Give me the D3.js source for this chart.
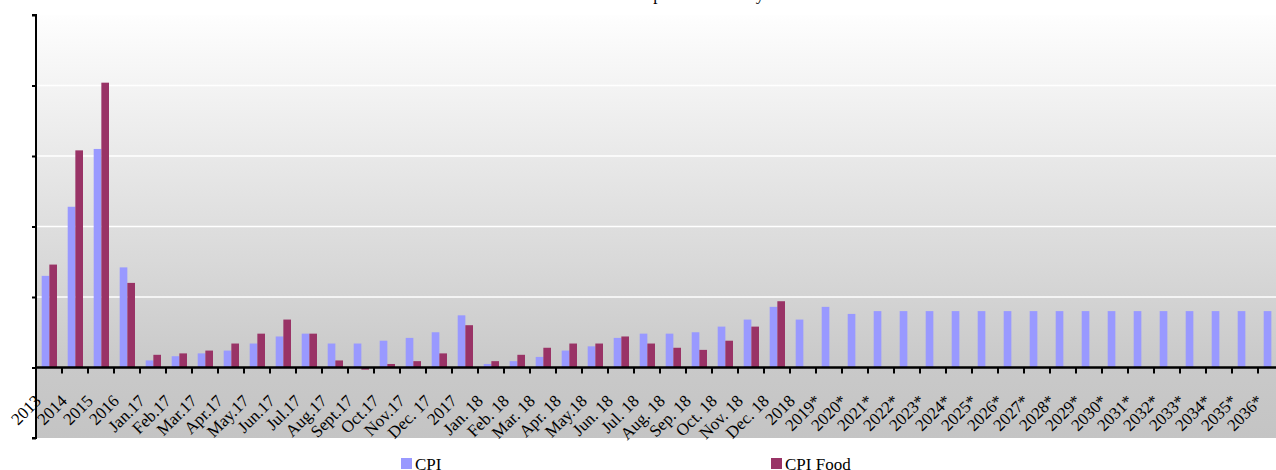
<!DOCTYPE html>
<html>
<head>
<meta charset="utf-8">
<script src="https://cdn.jsdelivr.net/npm/d3@7/dist/d3.min.js"></script>
<style>
  html, body { margin: 0; padding: 0; background: #ffffff; }
  svg { display: block; font-family: "Liberation Serif", "Times New Roman", serif; }
</style>
</head>
<body>
<svg id="chart" width="1276" height="470"></svg>
<script>
// Categories: annual figures, monthly figures for 2017 and 2018, forecasts (*)
const categories = [
  "2013", "2014", "2015", "2016",
  "Jan.17", "Feb.17", "Mar.17", "Apr.17", "May.17", "Jun.17", "Jul.17", "Aug.17",
  "Sept.17", "Oct.17", "Nov.17", "Dec. 17", "2017",
  "Jan. 18", "Feb. 18", "Mar. 18", "Apr. 18", "May.18", "Jun. 18", "Jul. 18",
  "Aug. 18", "Sep. 18", "Oct. 18", "Nov. 18", "Dec. 18", "2018",
  "2019*", "2020*", "2021*", "2022*", "2023*", "2024*", "2025*", "2026*", "2027*",
  "2028*", "2029*", "2030*", "2031*", "2032*", "2033*", "2034*", "2035*", "2036*"
];

// Consumer price index, %
const cpi = [
  6.5, 11.4, 15.5, 7.1,
  0.5, 0.8, 1.0, 1.2, 1.7, 2.2, 2.4, 1.7,
  1.7, 1.9, 2.1, 2.5, 3.7,
  0.25, 0.45, 0.75, 1.2, 1.5, 2.1, 2.4,
  2.4, 2.5, 2.9, 3.4, 4.3, 3.4,
  4.3, 3.8, 4.0, 4.0, 4.0, 4.0, 4.0, 4.0, 4.0,
  4.0, 4.0, 4.0, 4.0, 4.0, 4.0, 4.0, 4.0, 4.0
];

// Food component of the CPI, % (no figures for 2018 annual and forecasts)
const cpiFood = [
  7.3, 15.4, 20.2, 6.0,
  0.9, 1.0, 1.2, 1.7, 2.4, 3.4, 2.4, 0.5,
  -0.15, 0.25, 0.45, 1.0, 3.0,
  0.45, 0.9, 1.4, 1.7, 1.7, 2.2, 1.7,
  1.4, 1.25, 1.9, 2.9, 4.7, null,
  null, null, null, null, null, null, null, null, null,
  null, null, null, null, null, null, null, null, null
];

const seriesNames = ["CPI", "CPI Food"];
const seriesColors = ["#9999ff", "#993366"];
const yTicks = [-5, 0, 5, 10, 15, 20, 25];
const titleText = "Inflation rate in % per month and year";

const svg = d3.select("#chart");

const plotLeft = 36, plotTop = 15, plotBottom = 438;
const bandWidth = 26;
const plotRight = plotLeft + bandWidth * categories.length;

const x = d3.scaleBand().domain(categories).range([plotLeft, plotRight]).padding(0);
const x1 = d3.scaleBand().domain(seriesNames).range([5.7, 21]).padding(0);
const y = d3.scaleLinear().domain([-5, 25]).range([plotBottom, plotTop]);

// Background: light-to-grey vertical gradient
const defs = svg.append("defs");
const grad = defs.append("linearGradient")
  .attr("id", "bg").attr("x1", 0).attr("y1", 0).attr("x2", 0).attr("y2", 1);
grad.append("stop").attr("offset", "0%").attr("stop-color", "#fefefe");
grad.append("stop").attr("offset", "83%").attr("stop-color", "#c9c9c9");
grad.append("stop").attr("offset", "100%").attr("stop-color", "#c4c4c4");

svg.append("rect")
  .attr("x", plotLeft).attr("y", plotTop)
  .attr("width", plotRight - plotLeft).attr("height", plotBottom - plotTop)
  .attr("fill", "url(#bg)");

// Horizontal gridlines
svg.append("g")
  .selectAll("line")
  .data(yTicks.filter(t => t > 0 && t < 25))
  .join("line")
  .attr("x1", plotLeft).attr("x2", plotRight)
  .attr("y1", d => y(d)).attr("y2", d => y(d))
  .attr("stroke", "#ffffff").attr("stroke-width", 1.5);

// Bars
const rows = categories.map((c, i) => ({ cat: c, values: [cpi[i], cpiFood[i]] }));
const groups = svg.append("g")
  .selectAll("g")
  .data(rows)
  .join("g")
  .attr("transform", d => `translate(${x(d.cat)},0)`);

groups.selectAll("rect")
  .data(d => d.values.map((v, j) => ({ name: seriesNames[j], v, j })).filter(e => e.v !== null))
  .join("rect")
  .attr("x", d => x1(d.name))
  .attr("width", x1.bandwidth())
  .attr("y", d => Math.min(y(d.v), y(0)))
  .attr("height", d => Math.abs(y(d.v) - y(0)))
  .attr("fill", d => seriesColors[d.j]);

// Y axis (no labels)
const yAxis = d3.axisLeft(y).tickValues(yTicks).tickSize(4).tickFormat("");
const yg = svg.append("g").attr("transform", `translate(${plotLeft},0)`).call(yAxis);
yg.select(".domain").attr("stroke", "#000").attr("stroke-width", 2).attr("d", `M-4,${plotTop}H0V${plotBottom}H-4`);
yg.selectAll(".tick line").attr("stroke", "#000").attr("stroke-width", 2);

// Category axis along zero line, ticks at band boundaries
const zeroY = y(0);
svg.append("line")
  .attr("x1", plotLeft).attr("x2", plotRight)
  .attr("y1", zeroY).attr("y2", zeroY)
  .attr("stroke", "#000").attr("stroke-width", 2.5);

svg.append("g")
  .selectAll("line")
  .data(categories.slice(1))
  .join("line")
  .attr("x1", d => x(d)).attr("x2", d => x(d))
  .attr("y1", zeroY).attr("y2", zeroY + 6)
  .attr("stroke", "#000").attr("stroke-width", 2);

// Rotated category labels
svg.append("g")
  .selectAll("text")
  .data(categories)
  .join("text")
  .attr("transform", d => `translate(${x(d) + x.bandwidth() / 2 - 7},402) rotate(-45)`)
  .attr("text-anchor", "end")
  .attr("font-size", 17)
  .attr("fill", "#000")
  .text(d => d);

// Title
svg.append("text")
  .attr("x", 655).attr("y", 0)
  .attr("text-anchor", "middle")
  .attr("font-size", 17)
  .attr("fill", "#000")
  .text(titleText);

// Legend
const legendX = [401, 771];
const legend = svg.append("g")
  .selectAll("g")
  .data(seriesNames)
  .join("g")
  .attr("transform", (d, i) => `translate(${legendX[i]},458)`);
legend.append("rect").attr("width", 11).attr("height", 11).attr("fill", (d, i) => seriesColors[i]);
legend.append("text").attr("x", 14).attr("y", 12).attr("font-size", 17).attr("fill", "#000").text(d => d);
</script>
</body>
</html>
